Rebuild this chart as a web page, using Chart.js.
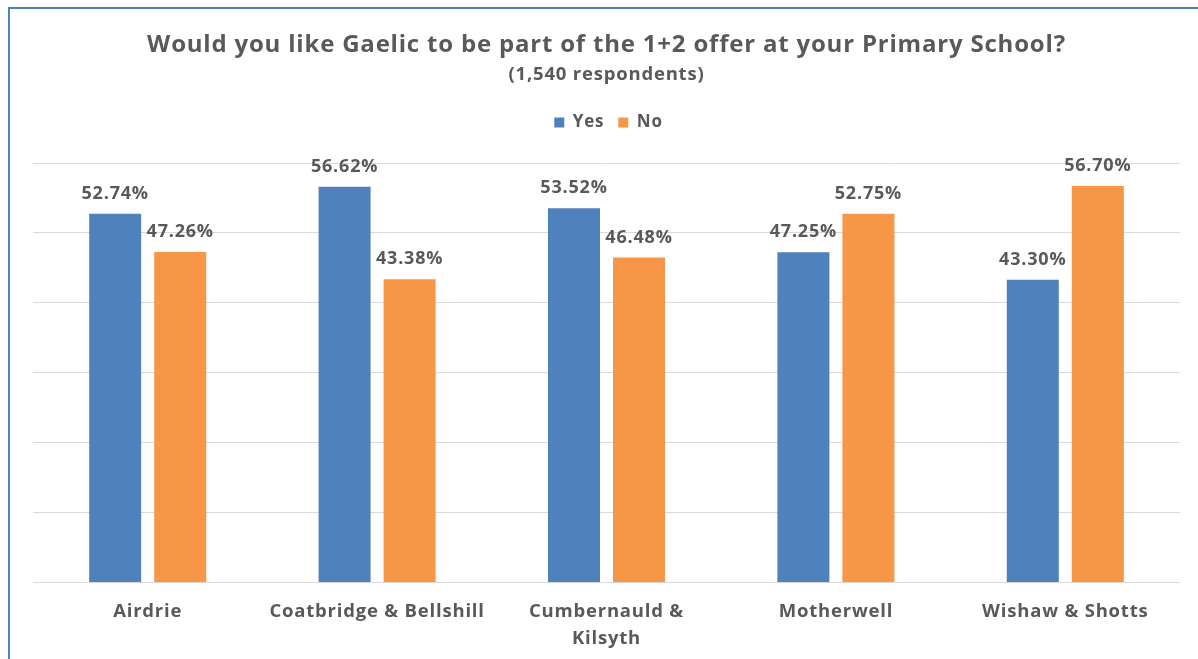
<!DOCTYPE html>
<html>
<head>
<meta charset="utf-8">
<script src="https://cdn.jsdelivr.net/npm/chart.js@4/dist/chart.umd.min.js"></script>
<style>
  body { margin: 0; background: #fff; }
  #wrap { position: relative; width: 1198px; height: 659px; overflow: hidden; }
  #frame { position: absolute; left: 8px; top: 7px; width: 1300px; height: 800px;
           border-left: 2px solid #4f81bd; border-top: 2px solid #4f81bd; pointer-events: none; }
  canvas { position: absolute; left: 0; top: 0; }
</style>
</head>
<body>
<div id="wrap">
  <canvas id="chart" width="1198" height="660"></canvas>
  <div id="frame"></div>
</div>
<script>
// data
const areas = ['Airdrie', 'Coatbridge & Bellshill', ['Cumbernauld &', 'Kilsyth'], 'Motherwell', 'Wishaw & Shotts'];
const yesPct = [52.74, 56.62, 53.52, 47.25, 43.30];
const noPct = [47.26, 43.38, 46.48, 52.75, 56.70];

const textGrey = '#595959';
const fontFamily = '"Open Sans", sans-serif';

// a touch of letter spacing to get closer to the original's wide text
const spacing = {
  id: 'spacing',
  beforeDraw(chart) { chart.ctx.letterSpacing = '0.8px'; }
};

// empty box under the legend so the plot starts lower
const legendGap = {
  id: 'legendGap',
  beforeInit(chart) {
    Chart.layouts.addBox(chart, {
      position: 'top', weight: 500, fullSize: true, options: {},
      isHorizontal() { return true; },
      update(maxWidth) { this.width = maxWidth; this.height = 22; },
      draw() {}
    });
  }
};

// draws the percentage over each bar
const barLabels = {
  id: 'barLabels',
  afterDatasetsDraw(chart) {
    const ctx = chart.ctx;
    ctx.save();
    ctx.font = 'bold 18px ' + fontFamily;
    ctx.fillStyle = textGrey;
    ctx.textAlign = 'center';
    ctx.textBaseline = 'alphabetic';
    chart.data.datasets.forEach((ds, i) => {
      chart.getDatasetMeta(i).data.forEach((bar, j) => {
        ctx.fillText(ds.data[j].toFixed(2) + '%', bar.x, bar.y - 15);
      });
    });
    ctx.restore();
  }
};

new Chart(document.getElementById('chart'), {
  type: 'bar',
  data: {
    labels: areas,
    datasets: [
      { label: 'Yes', data: yesPct, backgroundColor: '#4f81bd', barPercentage: 0.8, categoryPercentage: 0.567 },
      { label: 'No', data: noPct, backgroundColor: '#f79646', barPercentage: 0.8, categoryPercentage: 0.567 }
    ]
  },
  options: {
    responsive: false,
    animation: false,
    layout: { padding: { left: 33, right: 18, top: 31, bottom: 0 } },
    scales: {
      x: {
        grid: { display: false },
        border: { display: false },
        ticks: { color: textGrey, font: { family: fontFamily, size: 18.5, weight: 'bold', lineHeight: 1.5 }, padding: 7, maxRotation: 0 }
      },
      y: {
        min: 0, max: 60,
        ticks: { display: false, stepSize: 10 },
        grid: { color: '#d9d9d9', drawTicks: false },
        border: { display: false }
      }
    },
    plugins: {
      title: {
        display: true,
        text: 'Would you like Gaelic to be part of the 1+2 offer at your Primary School?',
        color: textGrey,
        font: { family: fontFamily, size: 24, weight: 'bold' },
        padding: { top: 0, bottom: 4 }
      },
      subtitle: {
        display: true,
        text: '(1,540 respondents)',
        color: textGrey,
        font: { family: fontFamily, size: 18.5, weight: 'bold' },
        padding: { top: 0, bottom: 14 }
      },
      legend: {
        labels: {
          color: textGrey,
          font: { family: fontFamily, size: 17, weight: 'bold' },
          boxWidth: 10, boxHeight: 10, padding: 14
        }
      },
      tooltip: { enabled: false }
    }
  },
  plugins: [spacing, legendGap, barLabels]
});
</script>
</body>
</html>
